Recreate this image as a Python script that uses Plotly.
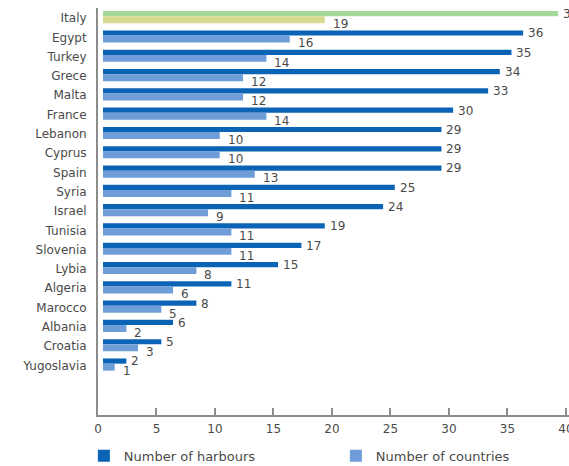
import plotly.graph_objects as go

countries = ["Italy", "Egypt", "Turkey", "Grece", "Malta", "France", "Lebanon", "Cyprus",
             "Spain", "Syria", "Israel", "Tunisia", "Slovenia", "Lybia", "Algeria",
             "Marocco", "Albania", "Croatia", "Yugoslavia"]
harbours = [39, 36, 35, 34, 33, 30, 29, 29, 29, 25, 24, 19, 17, 15, 11, 8, 6, 5, 2]
n_countries = [19, 16, 14, 12, 12, 14, 10, 10, 13, 11, 9, 11, 11, 8, 6, 5, 2, 3, 1]
tick_vals = [0, 5, 10, 15, 20, 25, 30, 35, 40]

DARK = "#0b63b6"
LIGHT = "#6f9dd8"
ITALY_DARK = "#a3d897"
ITALY_LIGHT = "#d6d98e"
TXT = "#4a4a4a"
AX = "#8c8c8c"
FONT = "DejaVu Sans, Verdana, sans-serif"

D_OFF, D_W = -0.36, 0.27
L_OFF, L_W = -0.09, 0.36

fig = go.Figure()
fig.add_trace(go.Bar(y=countries[1:], x=harbours[1:], orientation="h", name="Number of harbours",
                     marker=dict(color=DARK, line=dict(width=0)), offset=D_OFF, width=D_W,
                     hoverinfo="skip"))
fig.add_trace(go.Bar(y=countries[1:], x=n_countries[1:], orientation="h", name="Number of countries",
                     marker=dict(color=LIGHT, line=dict(width=0)), offset=L_OFF, width=L_W,
                     hoverinfo="skip"))
fig.add_trace(go.Bar(y=countries[:1], x=harbours[:1], orientation="h", showlegend=False,
                     marker=dict(color=ITALY_DARK, line=dict(width=0)), offset=D_OFF, width=D_W,
                     hoverinfo="skip"))
fig.add_trace(go.Bar(y=countries[:1], x=n_countries[:1], orientation="h", showlegend=False,
                     marker=dict(color=ITALY_LIGHT, line=dict(width=0)), offset=L_OFF, width=L_W,
                     hoverinfo="skip"))
# invisible helper so that the tick axis (xaxis2) is rendered
fig.add_trace(go.Scatter(x=[tick_vals[0]], y=countries[:1], xaxis="x2", yaxis="y",
                         mode="markers", marker=dict(opacity=0), showlegend=False,
                         hoverinfo="skip"))

annotations = []
for c, h, n in zip(countries, harbours, n_countries):
    annotations.append(dict(x=h, y=c, xref="x", yref="y", text=str(h), showarrow=False,
                            xanchor="left", yanchor="middle", xshift=3, yshift=4,
                            font=dict(size=12, color=TXT, family=FONT)))
    annotations.append(dict(x=n, y=c, xref="x", yref="y", text=str(n), showarrow=False,
                            xanchor="left", yanchor="middle", xshift=6, yshift=-6,
                            font=dict(size=12, color=TXT, family=FONT)))

fig.update_layout(
    width=569, height=466,
    margin=dict(l=98, r=0, t=8, b=51, autoexpand=False),
    paper_bgcolor="white", plot_bgcolor="white",
    barmode="overlay",
    font=dict(family=FONT, size=12, color=TXT),
    annotations=annotations,
    xaxis=dict(range=[-0.43, 39.93], visible=False, showgrid=False, zeroline=False),
    xaxis2=dict(range=[0, 40.26], overlaying="x", side="bottom", anchor="y",
                tickvals=tick_vals, ticks="inside", ticklen=7, tickwidth=1.5, tickcolor=AX,
                showline=True, linecolor=AX, linewidth=2, showgrid=False, zeroline=False,
                ticklabeloverflow="allow", ticklabelstandoff=2,
                tickfont=dict(size=12, color=TXT, family=FONT)),
    yaxis=dict(categoryorder="array", categoryarray=countries, range=[20.57, -0.52],
               showline=True, linecolor=AX, linewidth=2, ticks="", showgrid=False,
               zeroline=False, ticklabelstandoff=7,
               tickfont=dict(size=12, color=TXT, family=FONT)),
    legend=dict(orientation="h", x=-0.03, xanchor="left", y=-0.1, yanchor="middle",
                entrywidth=207, font=dict(size=13, color=TXT, family=FONT),
                itemsizing="constant"),
    showlegend=True,
)

fig.write_html("out.html")
